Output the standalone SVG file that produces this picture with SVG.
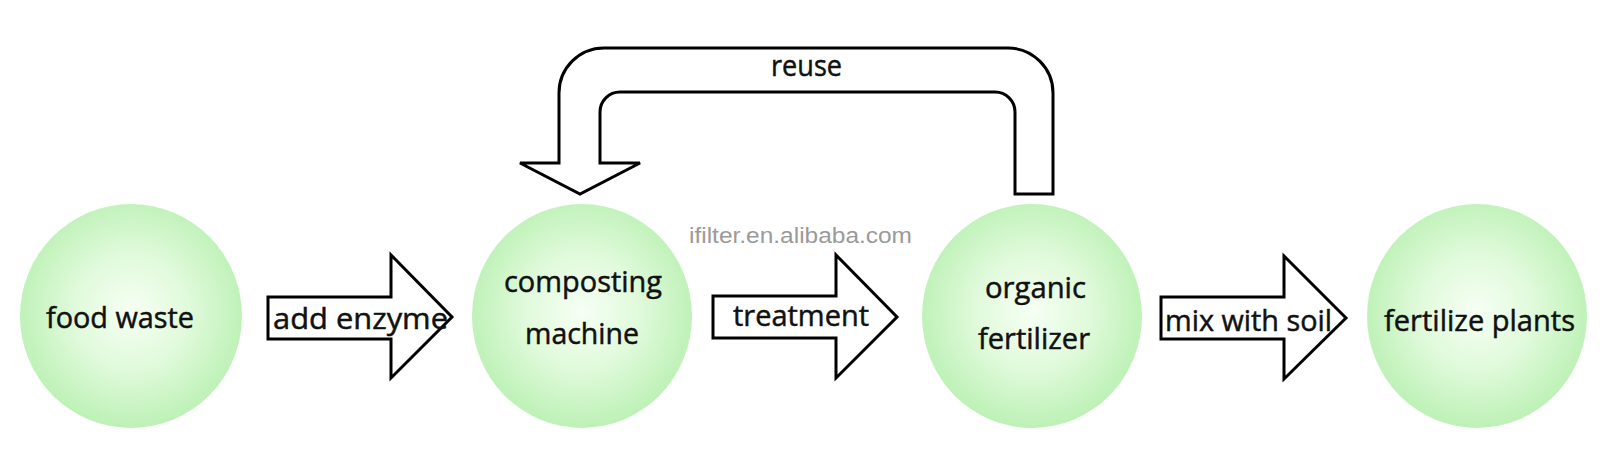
<svg xmlns="http://www.w3.org/2000/svg" width="1600" height="465" viewBox="0 0 1600 465">
<defs>
<radialGradient id="g" cx="0.5" cy="0.48" r="0.52">
<stop offset="0" stop-color="#f6fff4"/>
<stop offset="0.5" stop-color="#e0fadb"/>
<stop offset="1" stop-color="#bdf1b6"/>
</radialGradient>
<style>
.node{fill:url(#g);stroke:none}
.lbl{font-family:"Open Sans","Noto Sans",sans-serif;font-size:30px;fill:#111;stroke:#111;stroke-width:0.5}
.arr{fill:#fff;stroke:#000;stroke-width:3;stroke-linejoin:miter}
.wm{font-family:"Liberation Sans",Arial,sans-serif;font-size:22px;fill:#9a9a9a}
</style>
</defs>
<rect width="1600" height="465" fill="#fff"/>
<g id="connectors">
<g id="c1"><path class="arr" d="M268,297 L391,297 L391,255 L452,317 L391,378 L391,339 L268,339 Z"/><text class="lbl" x="273" y="329" textLength="175" lengthAdjust="spacingAndGlyphs">add enzyme</text></g>
<g id="c2"><path class="arr" d="M713,296 L836,296 L836,255 L897,317 L836,378 L836,338 L713,338 Z"/><text class="lbl" x="733" y="326" textLength="136" lengthAdjust="spacingAndGlyphs">treatment</text></g>
<g id="c3"><path class="arr" d="M1161,297 L1284,297 L1284,256 L1346,318 L1284,379 L1284,339 L1161,339 Z"/><text class="lbl" x="1165" y="331" textLength="167" lengthAdjust="spacingAndGlyphs">mix with soil</text></g>
<g id="c4"><path class="arr" d="M1053,194 L1053,93 A45,45 0 0 0 1008,48 L604,48 A45,45 0 0 0 559,93 L559,163 L520,163 L580,194 L640,163 L600,163 L600,112 A20,20 0 0 1 620,92 L995,92 A20,20 0 0 1 1015,112 L1015,194 Z"/><text class="lbl" x="771" y="76" textLength="71" lengthAdjust="spacingAndGlyphs">reuse</text></g>
</g>
<g id="n1"><ellipse class="node" cx="131" cy="316" rx="111" ry="112"/><text class="lbl" x="46" y="328" textLength="148" lengthAdjust="spacingAndGlyphs">food waste</text></g>
<g id="n2"><ellipse class="node" cx="582" cy="316" rx="110" ry="112"/><text class="lbl" x="504" y="292" textLength="158" lengthAdjust="spacingAndGlyphs">composting</text><text class="lbl" x="525" y="344" textLength="114" lengthAdjust="spacingAndGlyphs">machine</text></g>
<g id="n3"><ellipse class="node" cx="1032" cy="316" rx="110" ry="112"/><text class="lbl" x="985" y="298" textLength="101" lengthAdjust="spacingAndGlyphs">organic</text><text class="lbl" x="978" y="349" textLength="112" lengthAdjust="spacingAndGlyphs">fertilizer</text></g>
<g id="n4"><ellipse class="node" cx="1477" cy="316" rx="110" ry="112"/><text class="lbl" x="1384" y="331" textLength="191" lengthAdjust="spacingAndGlyphs">fertilize plants</text></g>
<text class="wm" x="689" y="243" textLength="223" lengthAdjust="spacingAndGlyphs">ifilter.en.alibaba.com</text>
</svg>
